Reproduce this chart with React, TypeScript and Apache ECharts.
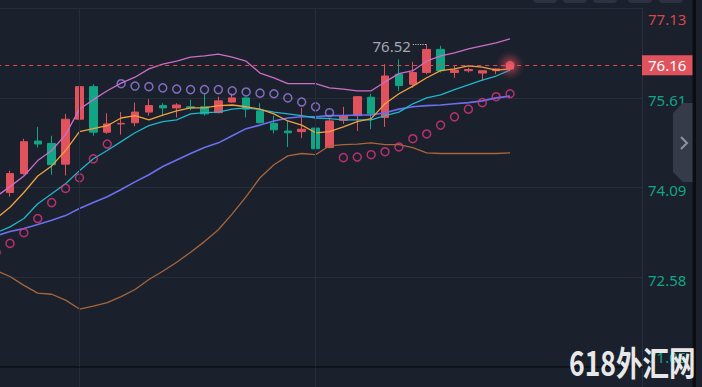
import React, { useEffect, useRef } from "react";
import * as echarts from "echarts";

// [open, close, low, high]
const candles: number[][] = [
  [73.57, 73.99, 73.5, 74.03],
  [74.01, 74.33, 73.94, 74.38],
  [74.33, 74.87, 74.31, 74.92],
  [74.88, 74.83, 74.77, 75.12],
  [74.84, 74.48, 74.31, 74.97],
  [74.49, 75.25, 74.3, 75.34],
  [75.25, 75.8, 75.22, 75.84],
  [75.8, 75.03, 74.97, 75.84],
  [75.03, 75.17, 75.0, 75.35],
  [75.17, 75.18, 74.99, 75.37],
  [75.19, 75.37, 75.13, 75.53],
  [75.37, 75.48, 75.31, 75.59],
  [75.48, 75.44, 75.31, 75.52],
  [75.44, 75.49, 75.28, 75.52],
  [75.46, 75.44, 75.4, 75.58],
  [75.46, 75.34, 75.31, 75.67],
  [75.36, 75.56, 75.35, 75.63],
  [75.54, 75.61, 75.53, 75.68],
  [75.61, 75.42, 75.28, 75.62],
  [75.39, 75.19, 75.18, 75.52],
  [75.18, 75.07, 75.01, 75.31],
  [75.05, 75.02, 74.78, 75.23],
  [75.04, 75.08, 74.93, 75.44],
  [75.1, 74.75, 74.6, 75.16],
  [74.77, 75.22, 74.76, 75.26],
  [75.23, 75.31, 75.17, 75.46],
  [75.31, 75.63, 75.05, 75.64],
  [75.62, 75.34, 75.08, 75.68],
  [75.28, 75.98, 75.12, 76.18],
  [76.01, 75.82, 75.73, 76.26],
  [75.84, 76.04, 75.78, 76.22],
  [76.04, 76.43, 76.01, 76.52],
  [76.43, 76.07, 76.04, 76.49],
  [76.04, 76.08, 75.95, 76.16],
  [76.07, 76.09, 76.04, 76.12],
  [76.03, 76.07, 75.9, 76.07],
  [76.07, 76.1, 76.01, 76.11],
  [76.1, 76.16, 76.08, 76.17],
];

const ma5 = [
  73.57, 73.76, 74.01, 74.29, 74.46, 74.72, 75.04, 75.09, 75.14, 75.27,
  75.31, 75.24, 75.32, 75.39, 75.44, 75.44, 75.48, 75.49, 75.46, 75.42,
  75.34, 75.22, 75.15, 75.02, 75.04, 75.12, 75.21, 75.26, 75.51, 75.68,
  75.81, 75.95, 76.07, 76.1, 76.15, 76.13, 76.08, 76.1,
];
const ma10 = [
  73.33, 73.43, 73.57, 73.82, 73.99, 74.16, 74.38, 74.58, 74.72, 74.87,
  75.02, 75.14, 75.21, 75.24, 75.34, 75.36, 75.37, 75.42, 75.44, 75.41,
  75.37, 75.34, 75.31, 75.27, 75.26, 75.24, 75.24, 75.24, 75.31, 75.37,
  75.51, 75.61, 75.66, 75.75, 75.83, 75.91, 75.98, 76.08,
];
const bollUp = [
  73.94, 74.11, 74.29, 74.55, 74.72, 74.99, 75.42, 75.58, 75.73, 75.86,
  75.96, 76.1, 76.18, 76.23, 76.3, 76.32, 76.35, 76.3, 76.23, 76.03,
  75.95, 75.85, 75.85, 75.85, 75.78, 75.76, 75.73, 75.73, 75.88, 76.02,
  76.07, 76.23, 76.32, 76.37, 76.44, 76.49, 76.54, 76.61,
];
const bollMid = [
  73.28, 73.35, 73.4, 73.47, 73.54, 73.62, 73.74, 73.84, 73.94, 74.06,
  74.19, 74.31, 74.45, 74.56, 74.67, 74.77, 74.85, 74.97, 75.09, 75.15,
  75.22, 75.27, 75.29, 75.29, 75.31, 75.31, 75.32, 75.32, 75.36, 75.42,
  75.46, 75.48, 75.49, 75.51, 75.53, 75.56, 75.61, 75.64,
];
const bollDn = [
  72.69, 72.59, 72.44, 72.31, 72.29, 72.19, 72.04, 72.09, 72.15, 72.25,
  72.37, 72.54, 72.68, 72.83, 73.0, 73.18, 73.38, 73.65, 73.94, 74.26,
  74.48, 74.63, 74.67, 74.65, 74.8, 74.82, 74.83, 74.85, 74.82, 74.82,
  74.77, 74.68, 74.67, 74.67, 74.67, 74.67, 74.67, 74.68,
];
const sar = [
  73.0, 73.15, 73.33, 73.57, 73.84, 74.08, 74.26, 74.58, 74.83, 75.85,
  75.81, 75.8, 75.78, 75.76, 75.75, 75.75, 75.75, 75.73, 75.71, 75.69,
  75.68, 75.61, 75.54, 75.46, 75.36, 74.6, 74.61, 74.65, 74.7, 74.78,
  74.92, 75.0, 75.15, 75.29, 75.42, 75.53, 75.63, 75.68,
];

const yTickLabels = ["71.06", "72.58", "74.09", "75.61", "77.13"];
const yMin = 71.06;
const yMax = 77.13;
const lastPrice = 76.16;
const slotCount = 47;
const gridMarks = [6, 23];

const RED = "#e0525c";
const GREEN = "#11a585";
const BG = "#1a202c";
const GRID = "#262d3a";
const FONT = '"Noto Sans", "Open Sans", sans-serif';

export default function App() {
  const ref = useRef<HTMLDivElement>(null);

  useEffect(() => {
    if (!ref.current) return;
    const chart = echarts.init(ref.current, undefined, { renderer: "svg" });
    const categories = Array.from({ length: slotCount }, (_, i) => String(i));

    let maxIdx = 0;
    candles.forEach((c, i) => {
      if (c[3] > candles[maxIdx][3]) maxIdx = i;
    });
    const maxHigh = candles[maxIdx][3];

    const sarAbove: (number | string)[][] = [];
    const sarBelow: (number | string)[][] = [];
    sar.forEach((v, i) => {
      if (v > candles[i][3]) sarAbove.push([i, v]);
      else sarBelow.push([i, v]);
    });

    const lastIdx = candles.length - 1;

    const vLines = gridMarks.map((m) => ({
      xAxis: m,
      lineStyle: { color: GRID, width: 1, type: "solid" },
      label: { show: false },
    }));

    const lineSeries = (data: number[], color: string, width: number) => ({
      type: "line",
      data,
      symbol: "none",
      smooth: false,
      silent: true,
      lineStyle: { color, width },
      z: 3,
    });

    const tickInterval = (yMax - yMin) / (yTickLabels.length - 1);

    chart.setOption({
      animation: false,
      backgroundColor: BG,
      grid: [
        { left: -10.84, right: 60, top: 8, bottom: 20, outerBoundsMode: "none" },
        { left: -10.84, right: 60, top: 368, height: 19, outerBoundsMode: "none" },
      ],
      xAxis: [
        {
          type: "category",
          data: categories,
          gridIndex: 0,
          boundaryGap: true,
          axisLine: { show: true, lineStyle: { color: "#0b0d12", width: 1.5 } },
          axisTick: { show: false },
          axisLabel: { show: false },
          splitLine: { show: false },
        },
        {
          type: "category",
          data: categories,
          gridIndex: 1,
          boundaryGap: true,
          axisLine: { show: false },
          axisTick: { show: false },
          axisLabel: { show: false },
          splitLine: { show: false },
        },
      ],
      yAxis: [
        {
          type: "value",
          gridIndex: 0,
          position: "right",
          min: yMin,
          max: yMax,
          interval: tickInterval,
          axisLine: { show: true, lineStyle: { color: "#2a303d", width: 1 } },
          axisTick: { show: false },
          splitLine: { show: true, lineStyle: { color: GRID, width: 1 } },
          axisLabel: {
            margin: 6,
            fontFamily: FONT,
            fontSize: 15,
            formatter: (v: number) => {
              const idx = yTickLabels.findIndex(
                (t) => Math.abs(Number(t) - v) < 0.02
              );
              if (idx < 0) return "";
              const t = yTickLabels[idx];
              const side = Number(t) > lastPrice ? "up" : "dn";
              const pos =
                idx === yTickLabels.length - 1 ? "Top" : idx === 0 ? "Bot" : "";
              return `{${side}${pos}|${t}}`;
            },
            rich: {
              up: { color: "#d9444f", fontSize: 15, fontFamily: FONT, padding: [5, 0, 0, 0] },
              upTop: { color: "#d9444f", fontSize: 15, fontFamily: FONT, padding: [22, 0, 0, 0] },
              dn: { color: GREEN, fontSize: 15, fontFamily: FONT, padding: [5, 0, 0, 0] },
              dnBot: { color: GREEN, fontSize: 15, fontFamily: FONT, padding: [0, 0, 20, 0] },
              dnTop: { color: GREEN, fontSize: 15, fontFamily: FONT, padding: [22, 0, 0, 0] },
              upBot: { color: "#d9444f", fontSize: 15, fontFamily: FONT, padding: [0, 0, 20, 0] },
            },
          },
        },
        {
          type: "value",
          gridIndex: 1,
          position: "right",
          min: 0,
          max: 1,
          axisLine: { show: true, lineStyle: { color: "#2a303d", width: 1 } },
          axisTick: { show: false },
          axisLabel: { show: false },
          splitLine: { show: false },
        },
      ],
      series: [
        {
          type: "candlestick",
          data: candles,
          barWidth: 8,
          silent: true,
          itemStyle: {
            color: RED,
            color0: GREEN,
            borderColor: RED,
            borderColor0: GREEN,
            borderWidth: 1,
          },
          markLine: {
            silent: true,
            symbol: ["none", "none"],
            precision: 2,
            data: [
              ...vLines,
              [
                {
                  coord: [maxIdx - 1, maxHigh],
                  lineStyle: { color: "#b8bcc6", width: 1.2, type: "dotted" },
                  label: {
                    show: true,
                    position: "start",
                    distance: 2,
                    offset: [0, 2],
                    formatter: maxHigh.toFixed(2),
                    color: "#a3a8b3",
                    fontFamily: FONT,
                    fontSize: 15,
                  },
                },
                { coord: [maxIdx, maxHigh] },
              ],
            ],
          },
          z: 2,
        },
        lineSeries(bollDn, "#a9653a", 1.3),
        lineSeries(bollMid, "#6a70f0", 1.6),
        lineSeries(bollUp, "#cc6ec8", 1.3),
        lineSeries(ma10, "#20b6cc", 1.3),
        lineSeries(ma5, "#f0a03e", 1.3),
        {
          type: "scatter",
          data: sarAbove,
          symbol: "circle",
          symbolSize: 8,
          silent: true,
          itemStyle: { color: "transparent", borderColor: "#9b7fe2", borderWidth: 1.5 },
          z: 4,
        },
        {
          type: "scatter",
          data: sarBelow,
          symbol: "circle",
          symbolSize: 8,
          silent: true,
          itemStyle: { color: "transparent", borderColor: "#e0357f", borderWidth: 1.5 },
          z: 4,
        },
        {
          // glow halo around the last price
          type: "scatter",
          data: [[lastIdx, lastPrice]],
          symbol: "circle",
          symbolSize: 30,
          silent: true,
          itemStyle: {
            color: new echarts.graphic.RadialGradient(0.5, 0.5, 0.5, [
              { offset: 0, color: "rgba(240,80,95,0.85)" },
              { offset: 0.4, color: "rgba(240,80,95,0.45)" },
              { offset: 0.75, color: "rgba(240,80,95,0.12)" },
              { offset: 1, color: "rgba(240,80,95,0)" },
            ]),
          },
          z: 5,
        },
        {
          type: "scatter",
          data: [[lastIdx, lastPrice]],
          symbol: "circle",
          symbolSize: 9,
          silent: true,
          itemStyle: { color: "#f25a68" },
          z: 6,
          markLine: {
            silent: true,
            symbol: ["none", "none"],
            precision: 2,
            data: [
              {
                yAxis: lastPrice,
                lineStyle: { color: "#e04a56", width: 1, type: [4, 4], opacity: 1 },
                label: {
                  show: true,
                  position: "end",
                  distance: 0,
                  formatter: lastPrice.toFixed(2),
                  color: "#ffffff",
                  fontFamily: FONT,
                  fontSize: 15,
                  backgroundColor: RED,
                  padding: [3, 7, 2, 6],
                },
              },
            ],
          },
        },
        {
          type: "line",
          xAxisIndex: 1,
          yAxisIndex: 1,
          data: categories.map(() => null),
          symbol: "none",
          silent: true,
          markLine: {
            silent: true,
            symbol: ["none", "none"],
            data: vLines,
          },
        },
      ],
      graphic: [
        ...[533, 563, 593, 628, 659].map((x) => ({
          type: "rect",
          x,
          y: -20,
          shape: { width: 24, height: 23, r: 4 },
          style: { fill: "#2c3242" },
          silent: true,
        })),
        {
          type: "rect",
          x: 692.5,
          y: 0,
          shape: { width: 3.5, height: 387 },
          style: { fill: "#0b0d12" },
          silent: true,
          z: 10,
        },
        {
          type: "polygon",
          shape: {
            points: [
              [673, 113],
              [683, 103],
              [692.5, 103],
              [692.5, 182],
              [683, 182],
              [673, 172],
            ],
          },
          style: { fill: "#363b4a" },
          silent: true,
          z: 10,
        },
        {
          type: "polyline",
          shape: { points: [[681, 137], [687, 143], [681, 149]] },
          style: { stroke: "#8d93a0", lineWidth: 2, fill: "none" },
          silent: true,
          z: 11,
        },
        {
          type: "text",
          x: 569,
          y: 344,
          scaleX: 0.78,
          style: {
            text: "618外汇网",
            fill: "#e8e8e8",
            font: 'bold 34px "Noto Sans CJK SC", "Noto Sans", sans-serif',
            verticalAlign: "top",
            align: "left",
          },
          silent: true,
          z: 20,
        },
      ],
    });

    return () => chart.dispose();
  }, []);

  return (
    <div
      ref={ref}
      style={{ position: "fixed", left: 0, top: 0, width: 702, height: 387, background: BG }}
    />
  );
}
